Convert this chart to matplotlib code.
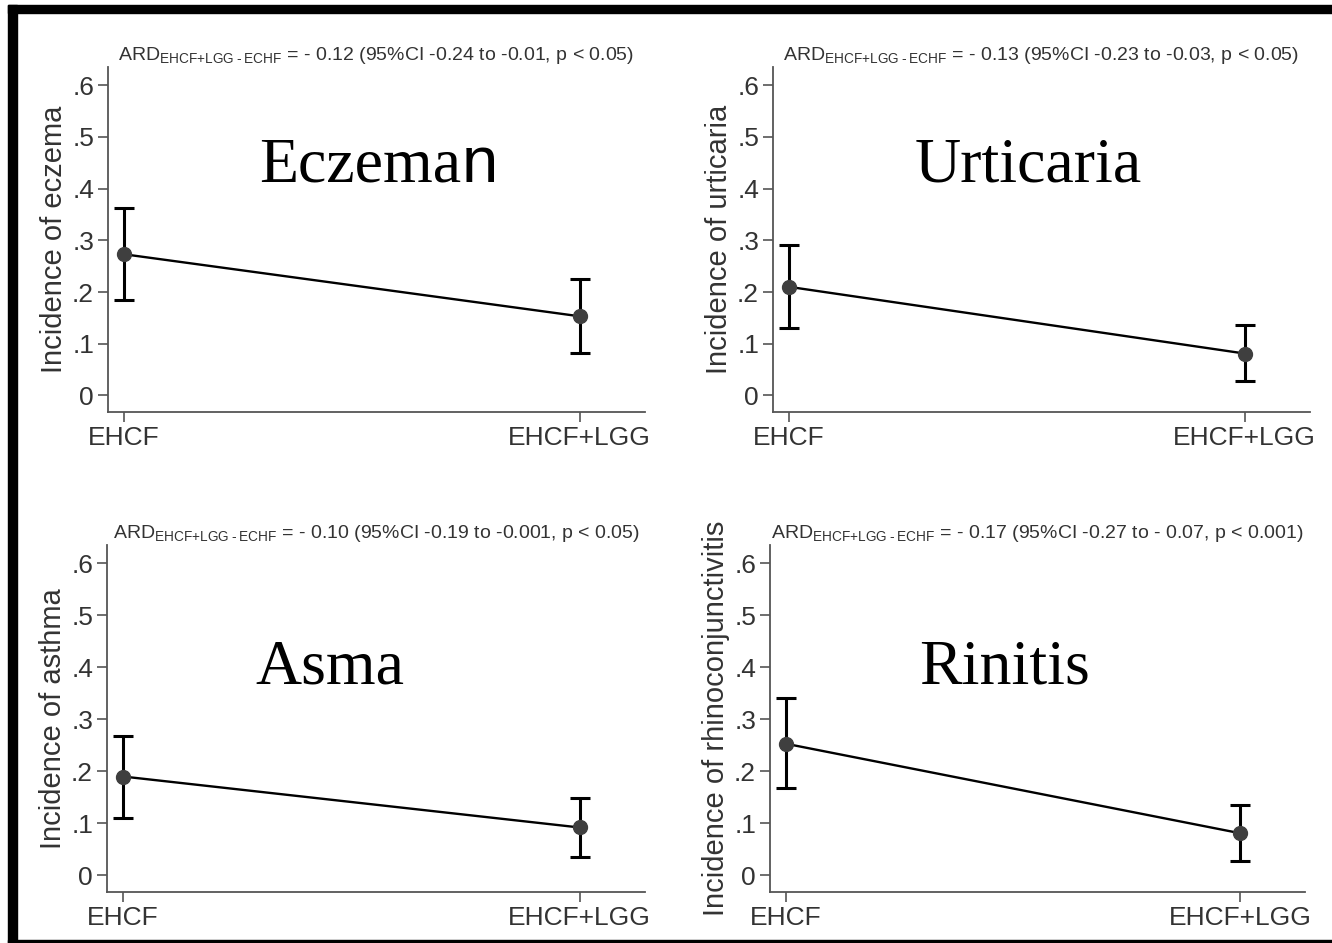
import matplotlib.pyplot as plt
from matplotlib.patches import Rectangle

# data
groups = ["EHCF", "EHCF+LGG"]
ylabels = ["Incidence of eczema", "Incidence of urticaria",
           "Incidence of asthma", "Incidence of rhinoconjunctivitis"]
names = ["Eczema", "Urticaria", "Asma", "Rinitis"]
ard_text = [
    "= - 0.12 (95%CI -0.24 to -0.01, p < 0.05)",
    "= - 0.13 (95%CI -0.23 to -0.03, p < 0.05)",
    "= - 0.10 (95%CI -0.19 to -0.001, p < 0.05)",
    "= - 0.17 (95%CI -0.27 to - 0.07, p < 0.001)",
]
means = [[0.273, 0.153], [0.210, 0.081], [0.190, 0.092], [0.253, 0.081]]
lower = [[0.185, 0.083], [0.130, 0.028], [0.111, 0.035], [0.167, 0.028]]
upper = [[0.362, 0.225], [0.290, 0.137], [0.268, 0.148], [0.340, 0.136]]
yticks = [0, 0.1, 0.2, 0.3, 0.4, 0.5, 0.6]
yticklabels = ["0", ".1", ".2", ".3", ".4", ".5", ".6"]

W, H = 1332, 943
fig = plt.figure(figsize=(W / 100, H / 100), dpi=100)
plt.rcParams['font.family'] = ['Liberation Sans', 'DejaVu Sans']

# axes boxes in pixels (left, right, top, bottom)
boxes = [(108, 645, 67, 412), (773, 1310, 67, 412),
         (107, 645, 545, 892), (770, 1305, 545, 892)]
# big names: centre x and baseline y in pixels
name_pos = [(360, 182), (1028, 182), (330, 683), (1005, 683)]

grey = "#555555"
txt = "#333333"
sub = "EHCF{+}LGG\u2009\u2010\u2009ECHF"

name_texts = []
for i in range(4):
    l, r, t, b = boxes[i]
    ax = fig.add_axes([l / W, 1 - b / H, (r - l) / W, (b - t) / H])
    xs = [0, 1]
    m = means[i]
    err = [[m[k] - lower[i][k] for k in range(2)],
           [upper[i][k] - m[k] for k in range(2)]]
    ax.plot(xs, m, color="black", lw=1.7, zorder=2)
    ax.errorbar(xs, m, yerr=err, fmt="none", ecolor="black",
                elinewidth=2.2, capsize=7.5, capthick=2.2, zorder=3)
    ax.plot(xs, m, "o", color="#3f3f3f", ms=10, zorder=4)

    ax.set_xlim(-0.035, 1.143)
    ax.set_ylim(-0.032, 0.635)
    ax.set_xticks(xs)
    ax.set_xticklabels(groups)
    ax.set_yticks(yticks)
    ax.set_yticklabels(yticklabels)
    ax.tick_params(colors=grey, labelcolor=txt, labelsize=19,
                   length=7, width=1.2, pad=3)
    for s in ["top", "right"]:
        ax.spines[s].set_visible(False)
    for s in ["left", "bottom"]:
        ax.spines[s].set_color(grey)
        ax.spines[s].set_linewidth(1.3)
    ax.set_ylabel(ylabels[i], fontsize=21, color=txt, labelpad=3)
    ax.set_title(r"ARD$_{\mathregular{" + sub + "}}$ " + ard_text[i],
                 fontsize=14, color=txt, pad=5)

    cx, cy = name_pos[i]
    name_texts.append(fig.text(cx / W, 1 - cy / H, names[i], ha="center",
                               va="baseline", fontsize=46,
                               family="Liberation Serif", color="black"))

# stray sans "n" stuck right after Eczema
fig.canvas.draw()
bb = name_texts[0].get_window_extent()
fig.text((bb.x1 + 1) / W, 1 - name_pos[0][1] / H, "n", ha="left",
         va="baseline", fontsize=47,
         family=["Liberation Sans Narrow", "Liberation Sans"], color="black")

# black frame bits of the screenshot
fig.patches.append(Rectangle((8 / W, 0), 9 / W, 1 - 5 / H,
                             transform=fig.transFigure, color="black"))
fig.patches.append(Rectangle((8 / W, 1 - 13 / H), 1, 8 / H,
                             transform=fig.transFigure, color="black"))
fig.patches.append(Rectangle((8 / W, 0), 1, 3 / H,
                             transform=fig.transFigure, color="black"))

fig.savefig("out.png", dpi=100)
